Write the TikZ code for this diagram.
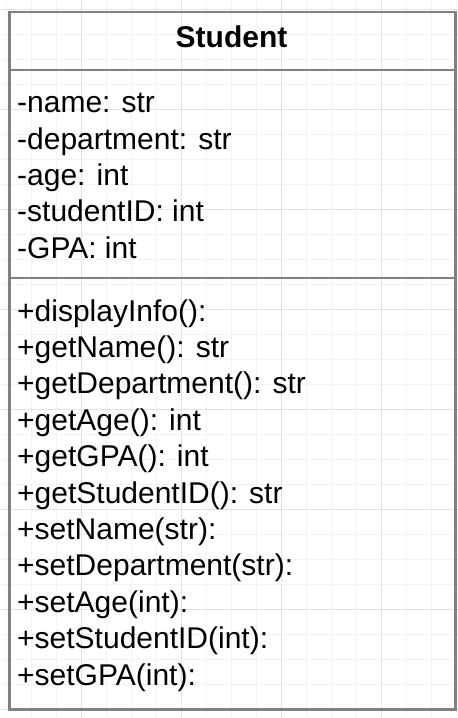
\documentclass[tikz,border=0pt]{standalone}
\usepackage{fontspec}
\setmainfont{Liberation Sans}
\usetikzlibrary{positioning}

\definecolor{umlgray}{HTML}{808080}
\definecolor{gridlight}{HTML}{F3F3F3}
\definecolor{griddark}{HTML}{E2E2E2}

\tikzset{
  classbox/.style={draw=umlgray, line width=2.5pt, fill=none, inner sep=0pt},
  divider/.style={draw=umlgray, line width=2.5pt},
  classname/.style={inner sep=0pt, font=\bfseries\fontsize{30}{36}\selectfont},
  member/.style={inner sep=0pt, text height=22pt, text depth=7pt,
    font=\fontsize{30}{36}\selectfont},
  under/.style={below=7pt of #1.south west, anchor=north west},
}

\begin{document}
\begin{tikzpicture}[x=1pt,y=-1pt]
  \useasboundingbox (0,0) rectangle (458,718);

  % Background grid
  \foreach \gx in {6.7,31.7,...,460} \draw[gridlight, line width=0.8pt] (\gx,0) -- (\gx,718);
  \foreach \gy in {9,34,...,720} \draw[gridlight, line width=0.8pt] (0,\gy) -- (458,\gy);
  \foreach \gx in {81.7,181.7,...,460} \draw[griddark, line width=0.8pt] (\gx,0) -- (\gx,718);
  \foreach \gy in {9,109,...,720} \draw[griddark, line width=0.8pt] (0,\gy) -- (458,\gy);

  % Class box
  \node[classbox, minimum width=446pt, minimum height=697.5pt, anchor=north west] (student) at (8,10.5) {};
  \coordinate (sepA) at (231,70);
  \coordinate (sepB) at (231,278);
  \draw[divider] (student.west |- sepA) -- (student.east |- sepA);
  \draw[divider] (student.west |- sepB) -- (student.east |- sepB);

  % Name
  \node[classname, anchor=base] (title) at (231.5,47.3) {Student};

  % Attributes
  \node[member, anchor=base west] (a1) at (17,112.7) {-name: str};
  \node[member, under=a1] (a2) {-department: str};
  \node[member, under=a2] (a3) {-age: int};
  \node[member, under=a3] (a4) {-studentID: int};
  \node[member, under=a4] (a5) {-GPA: int};

  % Methods
  \node[member, anchor=base west] (m1) at (17,321) {+displayInfo():};
  \node[member, under=m1] (m2) {+getName(): str};
  \node[member, under=m2] (m3) {+getDepartment(): str};
  \node[member, under=m3] (m4) {+getAge(): int};
  \node[member, under=m4] (m5) {+getGPA(): int};
  \node[member, under=m5] (m6) {+getStudentID(): str};
  \node[member, under=m6] (m7) {+setName(str):};
  \node[member, under=m7] (m8) {+setDepartment(str):};
  \node[member, under=m8] (m9) {+setAge(int):};
  \node[member, under=m9] (m10) {+setStudentID(int):};
  \node[member, under=m10] (m11) {+setGPA(int):};
\end{tikzpicture}
\end{document}
